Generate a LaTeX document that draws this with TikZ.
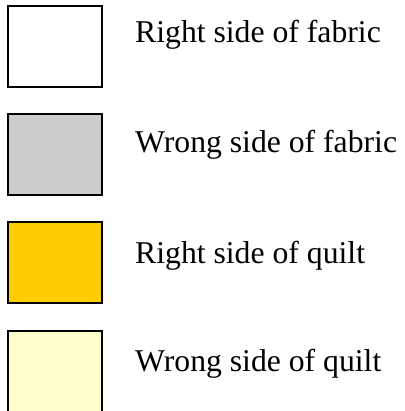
\documentclass[tikz,border=0pt]{standalone}
\usepackage{fontspec}
\setmainfont{Liberation Serif}
\definecolor{wrongfab}{HTML}{CCCCCC}
\definecolor{rightquilt}{HTML}{FFCC00}
\definecolor{wrongquilt}{HTML}{FFFFCC}
\tikzset{
  swatch/.style={draw=black, line width=2pt, rectangle, minimum width=93.5pt, minimum height=81pt, inner sep=0pt},
  legendtext/.style={anchor=base west, inner sep=0pt, font=\fontsize{31.7}{36}\selectfont}
}
\begin{document}
\begin{tikzpicture}[x=1pt,y=-1pt]
\useasboundingbox (0,0) rectangle (404,411);
\node[swatch, fill=white] (b1) at (54.75,46.5) {};
\node[swatch, fill=wrongfab] (b2) at (54.75,154.5) {};
\node[swatch, fill=rightquilt] (b3) at (54.75,262.8) {};
\node[swatch, fill=wrongquilt] (b4) at (54.75,371) {};
\node[legendtext] (l1) at (135,43) {Right side of fabric};
\node[legendtext] (l2) at (135,153) {Wrong side of fabric};
\node[legendtext] (l3) at (135,263) {Right side of quilt};
\node[legendtext] (l4) at (135,371) {Wrong side of quilt};
\end{tikzpicture}
\end{document}
